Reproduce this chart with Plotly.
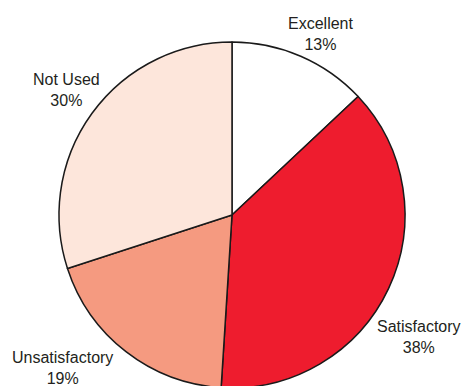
import plotly.graph_objects as go

# Survey response shares (percent), listed clockwise from 12 o'clock
categories = ["Excellent", "Satisfactory", "Unsatisfactory", "Not Used"]
shares = [13, 38, 19, 30]
slice_colors = ["#FFFFFF", "#EE1C2E", "#F59A80", "#FDE6DB"]

# Label centres in page pixels (x, y midway between the two text lines)
label_px = {
    "Excellent": (320, 34),
    "Satisfactory": (419, 337),
    "Unsatisfactory": (62, 368),
    "Not Used": (66, 90),
}

W, H = 464, 400
L, R, T, B = 59, 59, 42, 12
PW, PH = W - L - R, H - T - B


def to_paper(px, py):
    return (px - L) / PW, (H - B - py) / PH


fig = go.Figure(
    go.Pie(
        labels=categories,
        values=shares,
        sort=False,
        direction="clockwise",
        rotation=0,
        marker=dict(colors=slice_colors, line=dict(color="#1a1a1a", width=1.5)),
        textinfo="none",
        hoverinfo="label+percent",
        showlegend=False,
    )
)

annotations = []
for name, val in zip(categories, shares):
    px, py = label_px[name]
    xp, yp = to_paper(px, py)
    annotations.append(
        dict(
            x=xp, y=yp, xref="paper", yref="paper",
            text=f"{name}<br>{val}%",
            showarrow=False,
            xanchor="center", yanchor="middle",
            font=dict(family="Liberation Sans Narrow, Arial Narrow, Liberation Sans, Arial, sans-serif",
                      size=16, color="#231F20"),
        )
    )

fig.update_layout(
    width=W, height=H,
    margin=dict(l=L, r=R, t=T, b=B, pad=0),
    paper_bgcolor="white",
    plot_bgcolor="white",
    annotations=annotations,
)

fig.write_html("out.html", post_script="document.body.style.overflow='hidden';")
